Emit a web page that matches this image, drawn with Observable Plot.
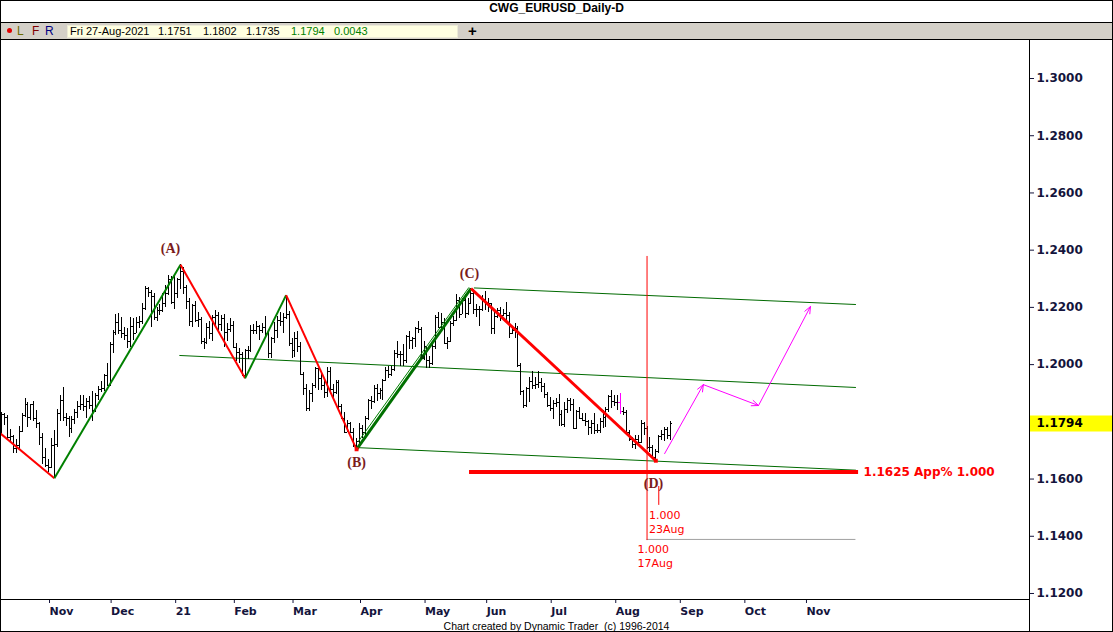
<!DOCTYPE html>
<html>
<head>
<meta charset="utf-8">
<script src="https://cdn.jsdelivr.net/npm/d3@7"></script>
<script src="https://cdn.jsdelivr.net/npm/@observablehq/plot@0.6"></script>
<style>
html,body{margin:0;padding:0;background:#fff;}
#wrap{position:relative;width:1113px;height:632px;overflow:hidden;background:#fff;}
#title{position:absolute;left:0;top:1px;width:1113px;height:21px;line-height:21px;text-align:center;font:bold 12px "Liberation Sans",Arial,sans-serif;color:#000;}
#tools{position:absolute;left:0;top:22px;width:1113px;height:18px;box-sizing:border-box;background:#d4d0c8;border-top:1px solid #000;border-bottom:1px solid #000;font:12px "Liberation Sans",Arial,sans-serif;}
#tools span{position:absolute;top:0;line-height:16px;white-space:pre;}
#dot{position:absolute;left:7px;top:5px;width:5px;height:5px;border-radius:50%;background:#e00000;}
#quote{position:absolute;left:67px;top:2px;width:391px;height:13px;background:#ffffe1;border:1px solid #ecebd6;box-sizing:border-box;}
#chart{position:absolute;left:0;top:40px;}
#footer{position:absolute;left:0;top:620px;width:1113px;height:11px;line-height:11px;text-align:center;font:10.5px "Liberation Sans",Arial,sans-serif;color:#000;white-space:pre;}
#frame{position:absolute;left:0;top:0;width:1113px;height:632px;box-sizing:border-box;border:1px solid #000;pointer-events:none;}
</style>
</head>
<body>
<div id="wrap">
  <div id="title">CWG_EURUSD_Daily-D</div>
  <div id="tools">
    <div id="dot"></div>
    <span style="left:17px;color:#6b6b00">L</span>
    <span style="left:32px;color:#800000">F</span>
    <span style="left:45px;color:#000080">R</span>
    <div id="quote"></div>
    <span id="q0" style="left:70px;font-size:11px">Fri 27-Aug-2021</span>
    <span id="q1" style="left:158px;font-size:11px"></span>
    <span id="q2" style="left:203px;font-size:11px"></span>
    <span id="q3" style="left:246px;font-size:11px"></span>
    <span id="q4" style="left:291px;font-size:11px;color:#008000"></span>
    <span id="q5" style="left:334px;font-size:11px;color:#008000"></span>
    <span style="left:468px;font-weight:bold;font-size:15px;line-height:15px">+</span>
  </div>
  <div id="chart"></div>
  <div id="footer">Chart created by Dynamic Trader  (c) 1996-2014</div>
  <div id="frame"></div>
</div>
<script>
// ---------- DATA ----------
// month tick labels and their trading-day index (index 0 = 2 Nov 2020; holidays 25 Dec & 1 Jan skipped)
const monthLabels = ["Nov","Dec","21","Feb","Mar","Apr","May","Jun","Jul","Aug","Sep","Oct","Nov"];
const monthStart  = [0, 21, 43, 63, 83, 106, 128, 149, 171, 193, 215, 237, 258];
const priceTicks  = [1.12, 1.14, 1.16, 1.20, 1.22, 1.24, 1.26, 1.28, 1.30];

// daily OHLC bars, 9 Oct 2020 .. 27 Aug 2021
const firstBarIndex = -16;
const barOpen = [
 1.1758,1.1826,1.1814,1.1744,1.1747,1.1706,1.1718,1.1767,1.1822,1.1862,1.1815,1.1860,1.1812,1.1794,1.1746,1.1675,
 1.1646,1.1641,1.1716,1.1722,1.1830,1.1875,1.1814,1.1813,1.1777,1.1809,1.1834,1.1855,1.1862,1.1852,1.1872,1.1857,1.1841,1.1892,1.1914,1.1917,1.1962,
 1.1927,1.2071,1.2113,1.2147,1.2120,1.2107,1.2101,1.2080,1.2134,1.2110,1.2148,1.2150,1.2197,1.2265,1.2253,1.2237,1.2163,1.2190,1.2188,1.2215,1.2248,1.2298,
 1.2216,1.2247,1.2297,1.2326,1.2270,1.2219,1.2151,1.2207,1.2155,1.2156,1.2082,1.2077,1.2131,1.2108,1.2166,1.2170,1.2140,1.2160,1.2113,1.2123,
 1.2137,1.2061,1.2041,1.2035,1.1963,1.2049,1.2051,1.2118,1.2120,1.2132,1.2120,1.2128,1.2108,1.2038,1.2090,1.2119,1.2154,1.2150,1.2166,1.2176,
 1.2074,1.2048,1.2091,1.2063,1.1966,1.1916,1.1846,1.1900,1.1928,1.1985,1.1951,1.1928,1.1902,1.1977,1.1914,1.1902,1.1939,1.1852,1.1813,1.1764,1.1794,1.1763,1.1717,
 1.1730,1.1778,1.1763,1.1812,1.1874,1.1871,1.1915,1.1899,1.1910,1.1946,1.1979,1.1967,1.1983,1.2038,1.2035,1.2034,1.2013,1.2097,1.2083,1.2090,1.2126,1.2123,
 1.2020,1.2062,1.2013,1.2004,1.2065,1.2164,1.2131,1.2148,1.2075,1.2082,1.2144,1.2154,1.2223,1.2176,1.2225,1.2177,1.2214,1.2249,1.2193,1.2194,1.2193,
 1.2227,1.2213,1.2212,1.2126,1.2167,1.2190,1.2172,1.2178,1.2173,1.2108,1.2120,1.2125,1.1996,1.1906,1.1858,1.1917,1.1941,1.1927,1.1929,1.1936,1.1923,1.1895,
 1.1858,1.1846,1.1864,1.1866,1.1824,1.1790,1.1843,1.1876,1.1860,1.1775,1.1836,1.1810,1.1806,1.1800,1.1781,1.1795,1.1771,1.1771,1.1800,1.1815,1.1843,1.1887,
 1.1870,1.1869,1.1869,1.1835,1.1833,1.1761,1.1737,1.1720,1.1738,1.1727,1.1795,1.1778,1.1710,1.1711,1.1676,1.1697,1.1748,1.1757,1.1774,1.1751
];
const barHigh = [
 1.1831,1.1830,1.1823,1.1772,1.1752,1.1737,1.1782,1.1830,1.1881,1.1866,1.1861,1.1870,1.1839,1.1796,1.1758,1.1707,
 1.1669,1.1742,1.1769,1.1844,1.1891,1.1920,1.1830,1.1818,1.1820,1.1843,1.1870,1.1893,1.1891,1.1880,1.1890,1.1905,1.1898,1.1924,1.1941,1.1965,1.2004,
 1.2077,1.2118,1.2176,1.2178,1.2166,1.2130,1.2126,1.2163,1.2162,1.2163,1.2167,1.2212,1.2273,1.2268,1.2259,1.2250,1.2200,1.2210,1.2250,1.2276,1.2310,1.2309,
 1.2310,1.2300,1.2349,1.2341,1.2278,1.2230,1.2210,1.2222,1.2182,1.2165,1.2091,1.2145,1.2152,1.2172,1.2189,1.2181,1.2170,1.2175,1.2144,1.2160,
 1.2149,1.2075,1.2056,1.2044,1.2053,1.2063,1.2137,1.2140,1.2150,1.2135,1.2144,1.2169,1.2113,1.2096,1.2146,1.2169,1.2181,1.2180,1.2243,1.2184,
 1.2091,1.2113,1.2114,1.2077,1.1973,1.1930,1.1911,1.1935,1.1990,1.1987,1.1966,1.1951,1.1989,1.1990,1.1929,1.1945,1.1944,1.1860,1.1832,1.1803,1.1796,1.1777,1.1742,
 1.1795,1.1786,1.1820,1.1879,1.1888,1.1928,1.1931,1.1918,1.1948,1.1990,1.1994,1.1995,1.2048,1.2080,1.2045,1.2071,1.2100,1.2117,1.2096,1.2130,1.2150,1.2128,
 1.2081,1.2064,1.2027,1.2071,1.2173,1.2181,1.2177,1.2160,1.2096,1.2151,1.2169,1.2245,1.2233,1.2230,1.2244,1.2232,1.2266,1.2262,1.2210,1.2202,1.2243,
 1.2254,1.2230,1.2213,1.2185,1.2196,1.2198,1.2194,1.2218,1.2183,1.2131,1.2144,1.2134,1.2003,1.1909,1.1920,1.1955,1.1975,1.1955,1.1975,1.1951,1.1935,1.1903,
 1.1885,1.1875,1.1883,1.1895,1.1838,1.1868,1.1880,1.1880,1.1879,1.1838,1.1849,1.1830,1.1829,1.1806,1.1806,1.1829,1.1790,1.1812,1.1841,1.1849,1.1892,1.1909,
 1.1893,1.1893,1.1900,1.1849,1.1838,1.1771,1.1745,1.1753,1.1752,1.1805,1.1798,1.1782,1.1746,1.1717,1.1702,1.1751,1.1770,1.1780,1.1781,1.1802
];
const barLow = [
 1.1751,1.1788,1.1737,1.1730,1.1688,1.1691,1.1702,1.1762,1.1815,1.1781,1.1806,1.1802,1.1776,1.1718,1.1650,1.1640,
 1.1622,1.1637,1.1603,1.1711,1.1800,1.1802,1.1785,1.1745,1.1760,1.1790,1.1813,1.1840,1.1836,1.1812,1.1844,1.1800,1.1833,1.1874,1.1902,1.1905,1.1924,
 1.1925,1.2040,1.2103,1.2106,1.2092,1.2086,1.2058,1.2060,1.2083,1.2110,1.2125,1.2140,1.2190,1.2235,1.2130,1.2154,1.2150,1.2170,1.2183,1.2200,1.2240,1.2211,
 1.2191,1.2230,1.2263,1.2245,1.2192,1.2132,1.2131,1.2147,1.2130,1.2071,1.2054,1.2070,1.2087,1.2080,1.2131,1.2118,1.2114,1.2059,1.2080,1.2111,
 1.2058,1.2011,1.2003,1.1957,1.1952,1.2017,1.2042,1.2105,1.2105,1.2083,1.2110,1.2098,1.2023,1.2022,1.2073,1.2092,1.2133,1.2109,1.2156,1.2062,
 1.2022,1.2025,1.2042,1.1963,1.1893,1.1836,1.1835,1.1869,1.1918,1.1910,1.1910,1.1882,1.1884,1.1897,1.1873,1.1896,1.1843,1.1809,1.1761,1.1762,1.1762,1.1712,1.1704,
 1.1724,1.1740,1.1738,1.1804,1.1844,1.1865,1.1870,1.1877,1.1873,1.1942,1.1951,1.1959,1.1977,1.2022,1.1995,1.1994,1.2005,1.2054,1.2054,1.2060,1.2110,1.2016,
 1.2015,1.1985,1.1986,1.1998,1.2052,1.2125,1.2123,1.2071,1.2052,1.2078,1.2133,1.2152,1.2162,1.2175,1.2162,1.2172,1.2210,1.2175,1.2164,1.2133,1.2185,
 1.2190,1.2183,1.2104,1.2104,1.2160,1.2150,1.2168,1.2144,1.2093,1.2104,1.2091,1.1990,1.1892,1.1847,1.1850,1.1866,1.1914,1.1913,1.1918,1.1901,1.1882,1.1851,
 1.1836,1.1807,1.1850,1.1782,1.1782,1.1781,1.1829,1.1836,1.1772,1.1772,1.1807,1.1800,1.1784,1.1752,1.1755,1.1757,1.1759,1.1760,1.1775,1.1780,1.1832,1.1845,
 1.1852,1.1840,1.1825,1.1822,1.1753,1.1733,1.1706,1.1705,1.1717,1.1725,1.1751,1.1702,1.1692,1.1667,1.1664,1.1690,1.1734,1.1730,1.1737,1.1735
];
const barClose = [
 1.1826,1.1814,1.1744,1.1747,1.1706,1.1718,1.1767,1.1822,1.1862,1.1815,1.1860,1.1812,1.1794,1.1746,1.1675,1.1646,
 1.1641,1.1716,1.1722,1.1830,1.1875,1.1814,1.1813,1.1777,1.1809,1.1834,1.1855,1.1862,1.1852,1.1872,1.1857,1.1841,1.1892,1.1914,1.1917,1.1962,1.1927,
 1.2071,1.2113,1.2147,1.2120,1.2107,1.2101,1.2080,1.2134,1.2110,1.2148,1.2150,1.2197,1.2265,1.2253,1.2237,1.2163,1.2190,1.2188,1.2215,1.2248,1.2298,1.2216,
 1.2247,1.2297,1.2326,1.2270,1.2219,1.2151,1.2207,1.2155,1.2156,1.2082,1.2077,1.2131,1.2108,1.2166,1.2170,1.2140,1.2160,1.2113,1.2123,1.2137,
 1.2061,1.2041,1.2035,1.1963,1.2049,1.2051,1.2118,1.2120,1.2132,1.2120,1.2128,1.2108,1.2038,1.2090,1.2119,1.2154,1.2150,1.2166,1.2176,1.2074,
 1.2048,1.2091,1.2063,1.1966,1.1916,1.1846,1.1900,1.1928,1.1985,1.1951,1.1928,1.1902,1.1977,1.1914,1.1902,1.1939,1.1852,1.1813,1.1764,1.1794,1.1763,1.1717,1.1730,
 1.1778,1.1763,1.1812,1.1874,1.1871,1.1915,1.1899,1.1910,1.1946,1.1979,1.1967,1.1983,1.2038,1.2035,1.2034,1.2013,1.2097,1.2083,1.2090,1.2126,1.2123,1.2020,
 1.2062,1.2013,1.2004,1.2065,1.2164,1.2131,1.2148,1.2075,1.2082,1.2144,1.2154,1.2223,1.2176,1.2225,1.2177,1.2214,1.2249,1.2193,1.2194,1.2193,1.2227,
 1.2213,1.2212,1.2126,1.2167,1.2190,1.2172,1.2178,1.2173,1.2108,1.2120,1.2125,1.1996,1.1906,1.1858,1.1917,1.1941,1.1927,1.1929,1.1936,1.1923,1.1895,1.1858,
 1.1846,1.1864,1.1866,1.1824,1.1790,1.1843,1.1876,1.1860,1.1775,1.1836,1.1810,1.1806,1.1800,1.1781,1.1795,1.1771,1.1771,1.1800,1.1815,1.1843,1.1887,1.1870,
 1.1869,1.1869,1.1835,1.1833,1.1761,1.1737,1.1720,1.1738,1.1727,1.1795,1.1778,1.1710,1.1711,1.1676,1.1697,1.1748,1.1757,1.1774,1.1751,1.1794
];
const highlightBarIndex = 195; // 4 Aug 2021 bar drawn in magenta

// swing (zigzag) pivots: trading-day index and price
const pivotX = [-46, 2, 45, 67, 81, 105, 144, 207];
const pivotY = [1.2011, 1.1603, 1.2349, 1.1952, 1.2243, 1.1704, 1.2266, 1.1664];
const companionX = [105.5, 143.3];
const companionY = [1.1730, 1.2270];

// wave labels
const waveText = ["(A)", "(B)", "(C)", "(D)"];
const waveX = [41.6, 105, 143.5, 206.2];
const waveY = [1.2406, 1.1658, 1.2318, 1.1584];

// channel lines
const chanX1 = [145, 44.6, 105];
const chanY1 = [1.2268, 1.2032, 1.1710];
const chanX2 = [275.2, 275.2, 275.2];
const chanY2 = [1.2210, 1.1920, 1.1631];

// price target
const targetPrice = 1.1625;
const targetX = [143.5, 276.1];
const targetText = "1.1625 App% 1.000";

// time projections
const timeLineX = [204, 208];
const timeLineTop = [1.2378, 1.1574];
const timeLineBottom = [1.1385, 1.1508];
const timeText = ["1.000", "17Aug", "1.000", "23Aug"];
const timeTextX = [200.75, 200.75, 204.7, 204.7];
const timeTextY = [1.13537, 1.13048, 1.14726, 1.14237];
const timeBaseY = 1.1389;

// projected path (magenta arrows)
const projX = [210, 223.2, 242, 259.7];
const projY = [1.1689, 1.1930, 1.1857, 1.2203];

// pivot markers
const markerX = [105, 207, 127.4];
const markerY = [1.1704, 1.1664, 1.2026];
const markerColor = ["#ff0000", "#ff0000", "#004000"];

// header quote
const quoteValues = [1.1751, 1.1802, 1.1735, 1.1794, 0.0043];

// ---------- LAYOUT ----------
const W = 1113, H = 592, mR = 84, mB = 33;
const pxPerBar = 2.934, originPx = 48;     // x pixel of index 0
const pxPerUnit = 2861.1;                   // y pixels per 1.0 of price
const xLo = -originPx / pxPerBar;
const xHi = (W - mR - originPx) / pxPerBar;
const xEdge = (W - originPx) / pxPerBar;
const yHi = 1.3 + 38 / pxPerUnit;
const yLo = yHi - (H - mB) / pxPerUnit;
const yBottom = yLo - mB / pxPerUnit;

const fmt4 = d3.format(".4f");
quoteValues.forEach((v, i) => document.getElementById("q" + (i + 1)).textContent = fmt4(v));

const bars = barClose.map((c, j) => ({i: firstBarIndex + j, o: barOpen[j], h: barHigh[j], l: barLow[j], c}));
const normalBars = bars.filter(d => d.i !== highlightBarIndex);
const hiBars = bars.filter(d => d.i === highlightBarIndex);
const tickW = 0.62;

const segs = pivotX.slice(1).map((x, j) => ({x1: pivotX[j], y1: pivotY[j], x2: x, y2: pivotY[j + 1], last: j === pivotX.length - 2, up: pivotY[j + 1] > pivotY[j], bc: j === 5}));
const chans = chanX1.map((x, j) => ({x1: x, y1: chanY1[j], x2: chanX2[j], y2: chanY2[j]}));
const proj = projX.slice(1).map((x, j) => ({x1: projX[j], y1: projY[j], x2: x, y2: projY[j + 1]}));
const monthMap = new Map(monthStart.map((v, i) => [v, monthLabels[i]]));
const lastClose = barClose[barClose.length - 1];

const barMarks = (data, color) => [
  Plot.ruleX(data, {x: "i", y1: "l", y2: "h", stroke: color, strokeWidth: 1, shapeRendering: "crispEdges"}),
  Plot.ruleY(data, {y: "o", x1: d => d.i - tickW, x2: "i", stroke: color, strokeWidth: 1, shapeRendering: "crispEdges"}),
  Plot.ruleY(data, {y: "c", x1: "i", x2: d => d.i + tickW, stroke: color, strokeWidth: 1, shapeRendering: "crispEdges"})
];

const chart = Plot.plot({
  width: W, height: H,
  marginTop: 0, marginLeft: 0, marginRight: mR, marginBottom: mB,
  x: {type: "linear", domain: [xLo, xHi]},
  y: {domain: [yLo, yHi]},
  style: {background: "transparent", fontFamily: "DejaVu Sans", fontSize: "11px", fontWeight: "bold", color: "#14143c", overflow: "visible"},
  marks: [
    // price tag on the axis
    Plot.ruleY([lastClose], {x1: xHi, x2: xEdge, stroke: "#ffff00", strokeWidth: 16}),
    Plot.text([lastClose], {x: xHi, y: d => d, text: d => fmt4(d), textAnchor: "start", dx: 7, fontSize: 12, fontWeight: "bold", fill: "#000"}),
    // axes
    Plot.axisY({anchor: "right", ticks: priceTicks, tickFormat: fmt4, tickSize: 4, tickPadding: 3, fontSize: 12, label: null}),
    Plot.axisX({ticks: monthStart, tickFormat: d => monthMap.get(d), tickSize: 4, tickPadding: 4, textAnchor: "start", dx: 1, label: null}),
    Plot.ruleX([xHi], {y1: yBottom, y2: yHi, stroke: "#000"}),
    Plot.ruleY([yLo], {x1: xLo, x2: xHi, stroke: "#000"}),
    // channel lines
    Plot.link(chans, {x1: "x1", y1: "y1", x2: "x2", y2: "y2", stroke: "#006a00", strokeWidth: 1}),
    // bars
    ...barMarks(normalBars, "#000"),
    ...barMarks(hiBars, "#ff00ff"),
    // zigzag
    Plot.link(segs.filter(d => !d.last && !d.bc), {x1: "x1", y1: "y1", x2: "x2", y2: "y2", stroke: d => d.up ? "green" : "red", strokeWidth: 2}),
    Plot.link([{x1: companionX[0], y1: companionY[0], x2: companionX[1], y2: companionY[1]}], {x1: "x1", y1: "y1", x2: "x2", y2: "y2", stroke: "#008000", strokeWidth: 1}),
    Plot.link(segs.filter(d => d.bc), {x1: "x1", y1: "y1", x2: "x2", y2: "y2", stroke: "#007000", strokeWidth: 3}),
    Plot.link(segs.filter(d => d.last), {x1: "x1", y1: "y1", x2: "x2", y2: "y2", stroke: "#ff0000", strokeWidth: 3}),
    // pivot markers
    Plot.dot(markerX.map((x, j) => ({x, y: markerY[j], c: markerColor[j]})), {x: "x", y: "y", fill: "c", symbol: "square", r: 2.2}),
    // time projections
    Plot.ruleY([timeBaseY], {x1: timeLineX[0], x2: chanX2[0], stroke: "#a0a0a0"}),
    Plot.ruleX(timeLineX.map((x, j) => ({x, a: timeLineTop[j], b: timeLineBottom[j]})), {x: "x", y1: "a", y2: "b", stroke: "#ff0000", strokeWidth: 1}),
    Plot.text(timeText.map((t, j) => ({t, x: timeTextX[j], y: timeTextY[j]})), {x: "x", y: "y", text: "t", textAnchor: "start", fontSize: 11, fontWeight: "normal", fill: "#ff0000"}),
    // price target
    Plot.ruleY([targetPrice], {x1: targetX[0], x2: targetX[1], stroke: "#ff0000", strokeWidth: 4}),
    Plot.text([targetText], {x: targetX[1], y: targetPrice, text: d => d, textAnchor: "start", dx: 5, fontSize: 12, fontWeight: "bold", fill: "#ff0000"}),
    // projected path
    Plot.arrow(proj, {x1: "x1", y1: "y1", x2: "x2", y2: "y2", stroke: "#ff00ff", strokeWidth: 1, headLength: 11, headAngle: 45}),
    // wave labels
    Plot.text(waveText.map((t, j) => ({t, x: waveX[j], y: waveY[j]})), {x: "x", y: "y", text: "t", fontFamily: "Liberation Serif", fontSize: 14, fontWeight: "bold", fill: "#7a1c1c"})
  ]
});
document.getElementById("chart").appendChild(chart);
</script>
</body>
</html>
